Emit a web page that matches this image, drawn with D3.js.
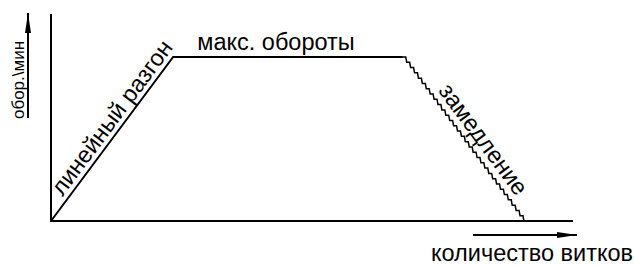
<!DOCTYPE html>
<html>
<head>
<meta charset="utf-8">
<script src="https://cdn.jsdelivr.net/npm/d3@7"></script>
<style>
  body { margin: 0; background: #fff; }
  text { font-family: "Liberation Sans", Arial, sans-serif; fill: #000; }
</style>
</head>
<body>
<svg id="chart" width="634" height="266"></svg>
<script>
// профиль намотки: витки (усл. ед.) и обороты (доля от максимума)
const phases = ["линейный разгон", "макс. обороты", "замедление"];
const turns = [0, 23.4, 67.4, 90.6];
const rpm = [0, 1, 1, 0];
const stairSteps = 31;           // ступеньки на участке замедления
const axisLabels = ["обор.\\мин", "количество витков"];

const W = 634, H = 266;
const svg = d3.select("#chart");

const x = d3.scaleLinear().domain([0, 100]).range([51, 573]);
const y = d3.scaleLinear().domain([0, 1]).range([221, 57]);
const yTop = 1.262; // где кончается ось

// оси (просто линии, без делений)
svg.append("line")
  .attr("x1", x(0)).attr("x2", x(0))
  .attr("y1", y(0) + 1).attr("y2", y(yTop))
  .attr("stroke", "#000").attr("stroke-width", 2);
svg.append("line")
  .attr("x1", x(0) - 1).attr("x2", x(100))
  .attr("y1", y(0)).attr("y2", y(0))
  .attr("stroke", "#000").attr("stroke-width", 2);

// разгон + полка
const pts = [0, 1, 2].map(i => [x(turns[i]), y(rpm[i])]);
svg.append("path")
  .attr("d", d3.line()(pts))
  .attr("fill", "none").attr("stroke", "#000").attr("stroke-width", 2)
  .attr("stroke-linejoin", "miter");

// замедление - лесенкой (гориз. кусок, потом почти вертикально вниз)
const x0 = x(turns[2]), y0 = y(rpm[2]), x1 = x(turns[3]), y1 = y(rpm[3]);
const sdx = (x1 - x0) / stairSteps, sdy = (y1 - y0) / stairSteps;
let stair = [[x0, y0]];
for (let i = 0; i < stairSteps; i++) {
  const cx = x0 + i * sdx, cy = y0 + i * sdy;
  stair.push([cx + sdx * 0.75, cy]);
  stair.push([cx + sdx, cy + sdy]);
}
svg.append("path")
  .attr("d", d3.line()(stair))
  .attr("fill", "none").attr("stroke", "#000").attr("stroke-width", 1.5)
  .attr("stroke-linejoin", "miter");

// подписи участков: along - сдвиг вдоль отрезка, off - отступ от линии
function segLabel(text, ax, ay, bx, by, along, off, size) {
  const len = Math.hypot(bx - ax, by - ay);
  const ux = (bx - ax) / len, uy = (by - ay) / len;
  let a = Math.atan2(uy, ux) * 180 / Math.PI;
  let s = 1;
  if (a > 90 || a < -90) { a += a > 0 ? -180 : 180; s = -1; }
  const r = a * Math.PI / 180;
  const mx = (ax + bx) / 2 + ux * along * s + Math.sin(r) * off;
  const my = (ay + by) / 2 + uy * along * s - Math.cos(r) * off;
  svg.append("text")
    .attr("transform", `translate(${mx},${my}) rotate(${a})`)
    .attr("text-anchor", "middle")
    .style("font-size", size + "px")
    .text(text);
}
segLabel(phases[0], pts[0][0], pts[0][1], pts[1][0], pts[1][1], 17, 5, 23.5);
svg.append("text")
  .attr("x", (pts[1][0] + pts[2][0]) / 2 - 12).attr("y", y(rpm[1]) - 7)
  .attr("text-anchor", "middle")
  .style("font-size", "23.5px")
  .text(phases[1]);
segLabel(phases[2], x0, y0, x1, y1, 12, 8, 23.5);

// стрелки у осей
svg.append("defs").append("marker")
  .attr("id", "arr").attr("viewBox", "0 0 20 6")
  .attr("refX", 20).attr("refY", 3)
  .attr("markerWidth", 20).attr("markerHeight", 6)
  .attr("markerUnits", "userSpaceOnUse")
  .attr("orient", "auto")
  .append("path").attr("d", "M0,0L20,3L0,6Z").attr("fill", "#000");

svg.append("line")
  .attr("x1", 28).attr("x2", 28).attr("y1", 118).attr("y2", 13)
  .attr("stroke", "#000").attr("stroke-width", 2)
  .attr("marker-end", "url(#arr)");
svg.append("text")
  .attr("transform", "translate(24,80) rotate(-90)")
  .attr("text-anchor", "middle")
  .style("font-size", "17px")
  .text(axisLabels[0]);

svg.append("line")
  .attr("x1", 473).attr("x2", 577).attr("y1", 235).attr("y2", 235)
  .attr("stroke", "#000").attr("stroke-width", 2)
  .attr("marker-end", "url(#arr)");
svg.append("text")
  .attr("x", 532).attr("y", 261)
  .attr("text-anchor", "middle")
  .style("font-size", "23.5px")
  .text(axisLabels[1]);
</script>
</body>
</html>
